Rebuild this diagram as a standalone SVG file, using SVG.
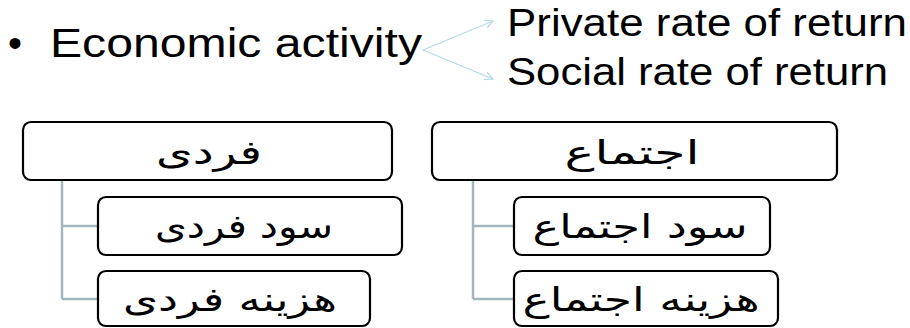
<svg xmlns="http://www.w3.org/2000/svg" width="910" height="328" viewBox="0 0 910 328">
  <style>
    .en { font-family: "Liberation Sans", Arial, sans-serif; fill: #000; }
    .fa { font-family: "DejaVu Sans", "Noto Sans", sans-serif; font-size: 33px; fill: #000; text-anchor: middle; }
    .box { fill: #fff; stroke: #000; stroke-width: 2.2; }
    .conn { fill: none; stroke: #a3b6bd; stroke-width: 2.5; }
    .arw { fill: none; stroke: #b5dbe0; stroke-width: 1.2; }
  </style>
  <defs>
    <marker id="chev" viewBox="0 0 10 10" refX="9" refY="5" markerWidth="10" markerHeight="10" markerUnits="userSpaceOnUse" orient="auto">
      <path d="M1,1 L9,5 L1,9" fill="none" stroke="#b5dbe0" stroke-width="1.2"/>
    </marker>
  </defs>

  <g id="title">
    <text class="en" x="8" y="57" font-size="40">•</text>
    <text class="en" x="50" y="57" font-size="41" textLength="372" lengthAdjust="spacingAndGlyphs">Economic activity</text>
  </g>
  <g id="private">
    <text class="en" x="507" y="36" font-size="38" textLength="400" lengthAdjust="spacingAndGlyphs">Private rate of return</text>
  </g>
  <g id="social">
    <text class="en" x="507" y="85" font-size="38" textLength="381" lengthAdjust="spacingAndGlyphs">Social rate of return</text>
  </g>

  <g id="connectors">
    <line class="arw" x1="423" y1="50" x2="493" y2="21" marker-end="url(#chev)"/>
    <line class="arw" x1="423" y1="50" x2="493" y2="79" marker-end="url(#chev)"/>
    <path class="conn" d="M62,180 V299 M62,226 H98 M62,299 H98"/>
    <path class="conn" d="M473,180 V299 M473,226 H514 M473,299 H514"/>
  </g>

  <g id="fardi">
    <rect class="box" x="23" y="122" width="369" height="58" rx="8"/>
    <text class="fa" x="209" y="164" textLength="106" lengthAdjust="spacingAndGlyphs">فردی</text>
  </g>
  <g id="sood-fardi">
    <rect class="box" x="98" y="197" width="304" height="58" rx="8"/>
    <text class="fa" x="244" y="238" textLength="178" lengthAdjust="spacingAndGlyphs">سود فردی</text>
  </g>
  <g id="hazine-fardi">
    <rect class="box" x="98" y="271" width="272" height="55" rx="8"/>
    <text class="fa" x="230" y="311" textLength="214" lengthAdjust="spacingAndGlyphs">هزینه فردی</text>
  </g>

  <g id="ejtema">
    <rect class="box" x="432" y="122" width="405" height="58" rx="8"/>
    <text class="fa" x="632" y="164" textLength="135" lengthAdjust="spacingAndGlyphs">اجتماع</text>
  </g>
  <g id="sood-ejtema">
    <rect class="box" x="514" y="197" width="256" height="58" rx="8"/>
    <text class="fa" x="640" y="238" textLength="215" lengthAdjust="spacingAndGlyphs">سود اجتماع</text>
  </g>
  <g id="hazine-ejtema">
    <rect class="box" x="514" y="271" width="264" height="55" rx="8"/>
    <text class="fa" x="641" y="311" textLength="237" lengthAdjust="spacingAndGlyphs">هزینه اجتماع</text>
  </g>
</svg>
